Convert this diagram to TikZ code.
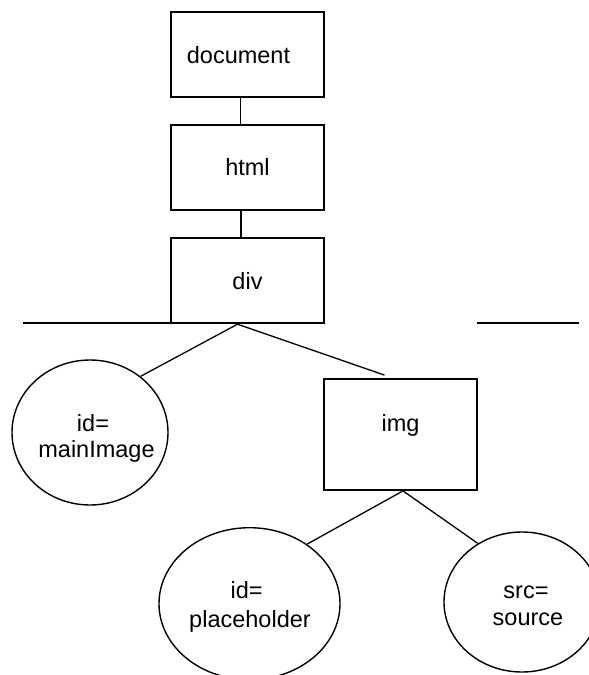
\documentclass[tikz,border=0pt]{standalone}
\usepackage{fontspec}
\setmainfont{Liberation Sans}
\usetikzlibrary{shapes.geometric}
\begin{document}
\begin{tikzpicture}[x=1pt,y=-1pt,
  every node/.style={font=\fontsize{23.5}{28}\selectfont},
  box/.style={draw, line width=1.8pt, rectangle, minimum width=153pt, minimum height=85pt, inner sep=0pt},
  oval/.style={draw, line width=1.4pt, ellipse, inner sep=0pt},
  txt/.style={inner sep=0pt, anchor=base},
  link/.style={line width=1.3pt},
  rule/.style={line width=1.8pt}]
\useasboundingbox (0,0) rectangle (589,675);
\clip (0,0) rectangle (589,675);

% element boxes
\node[box] (doc) at (247.5,54.5) {};
\node[txt, anchor=base west] (doctext) at (186.7,63.3) {document};
\node[box] (html) at (247.5,167.5) {html};
\node[box] (div) at (247.5,280.8) {div};
\node[box, minimum height=111pt] (img) at (400.5,434.5) {};
\node[txt] (imgtext) at (400.5,431) {img};

% attribute ovals
\node[oval, minimum width=156pt, minimum height=145pt] (mainimage) at (90,432.5) {};
\node[txt] (mainimage1) at (93,431.5) {id=};
\node[txt] (mainimage2) at (96.5,457) {mainImage};
\node[oval, minimum width=181pt, minimum height=152pt] (placeholder) at (249.5,603.7) {};
\node[txt] (placeholder1) at (246.7,598.3) {id=};
\node[txt] (placeholder2) at (250,627) {placeholder};
\node[oval, minimum width=156pt, minimum height=140pt] (source) at (522,602) {};
\node[txt] (source1) at (526,598) {src=};
\node[txt] (source2) at (528,625.5) {source};

% tree edges
\draw[link] ([xshift=-7pt]doc.south) -- ([xshift=-7pt]html.north);
\draw[link] ([xshift=-6.5pt]html.south) -- ([xshift=-6.5pt]div.north);
\coordinate (divfork) at ([xshift=-10pt]div.south);
\coordinate (imgtop) at ([xshift=-16pt,yshift=3pt]img.north);
\coordinate (imgfork) at ([xshift=2.5pt]img.south);
\draw[link] (divfork) -- (mainimage.48);
\draw[link] (divfork) -- (imgtop);
\draw[link] (imgfork) -- (placeholder.46);
\draw[link] (imgfork) -- (source.127);

% horizontal rule level with the bottom of the div box
\coordinate (divcorner) at ([shift={(0.9pt,0.9pt)}]div.south west);
\coordinate (ruleL) at ([xshift=-148.5pt]divcorner);
\coordinate (ruleR1) at ([xshift=306pt]divcorner);
\coordinate (ruleR2) at ([xshift=408pt]divcorner);
\draw[rule] (ruleL) -- (divcorner);
\draw[rule] (ruleR1) -- (ruleR2);
\end{tikzpicture}
\end{document}
